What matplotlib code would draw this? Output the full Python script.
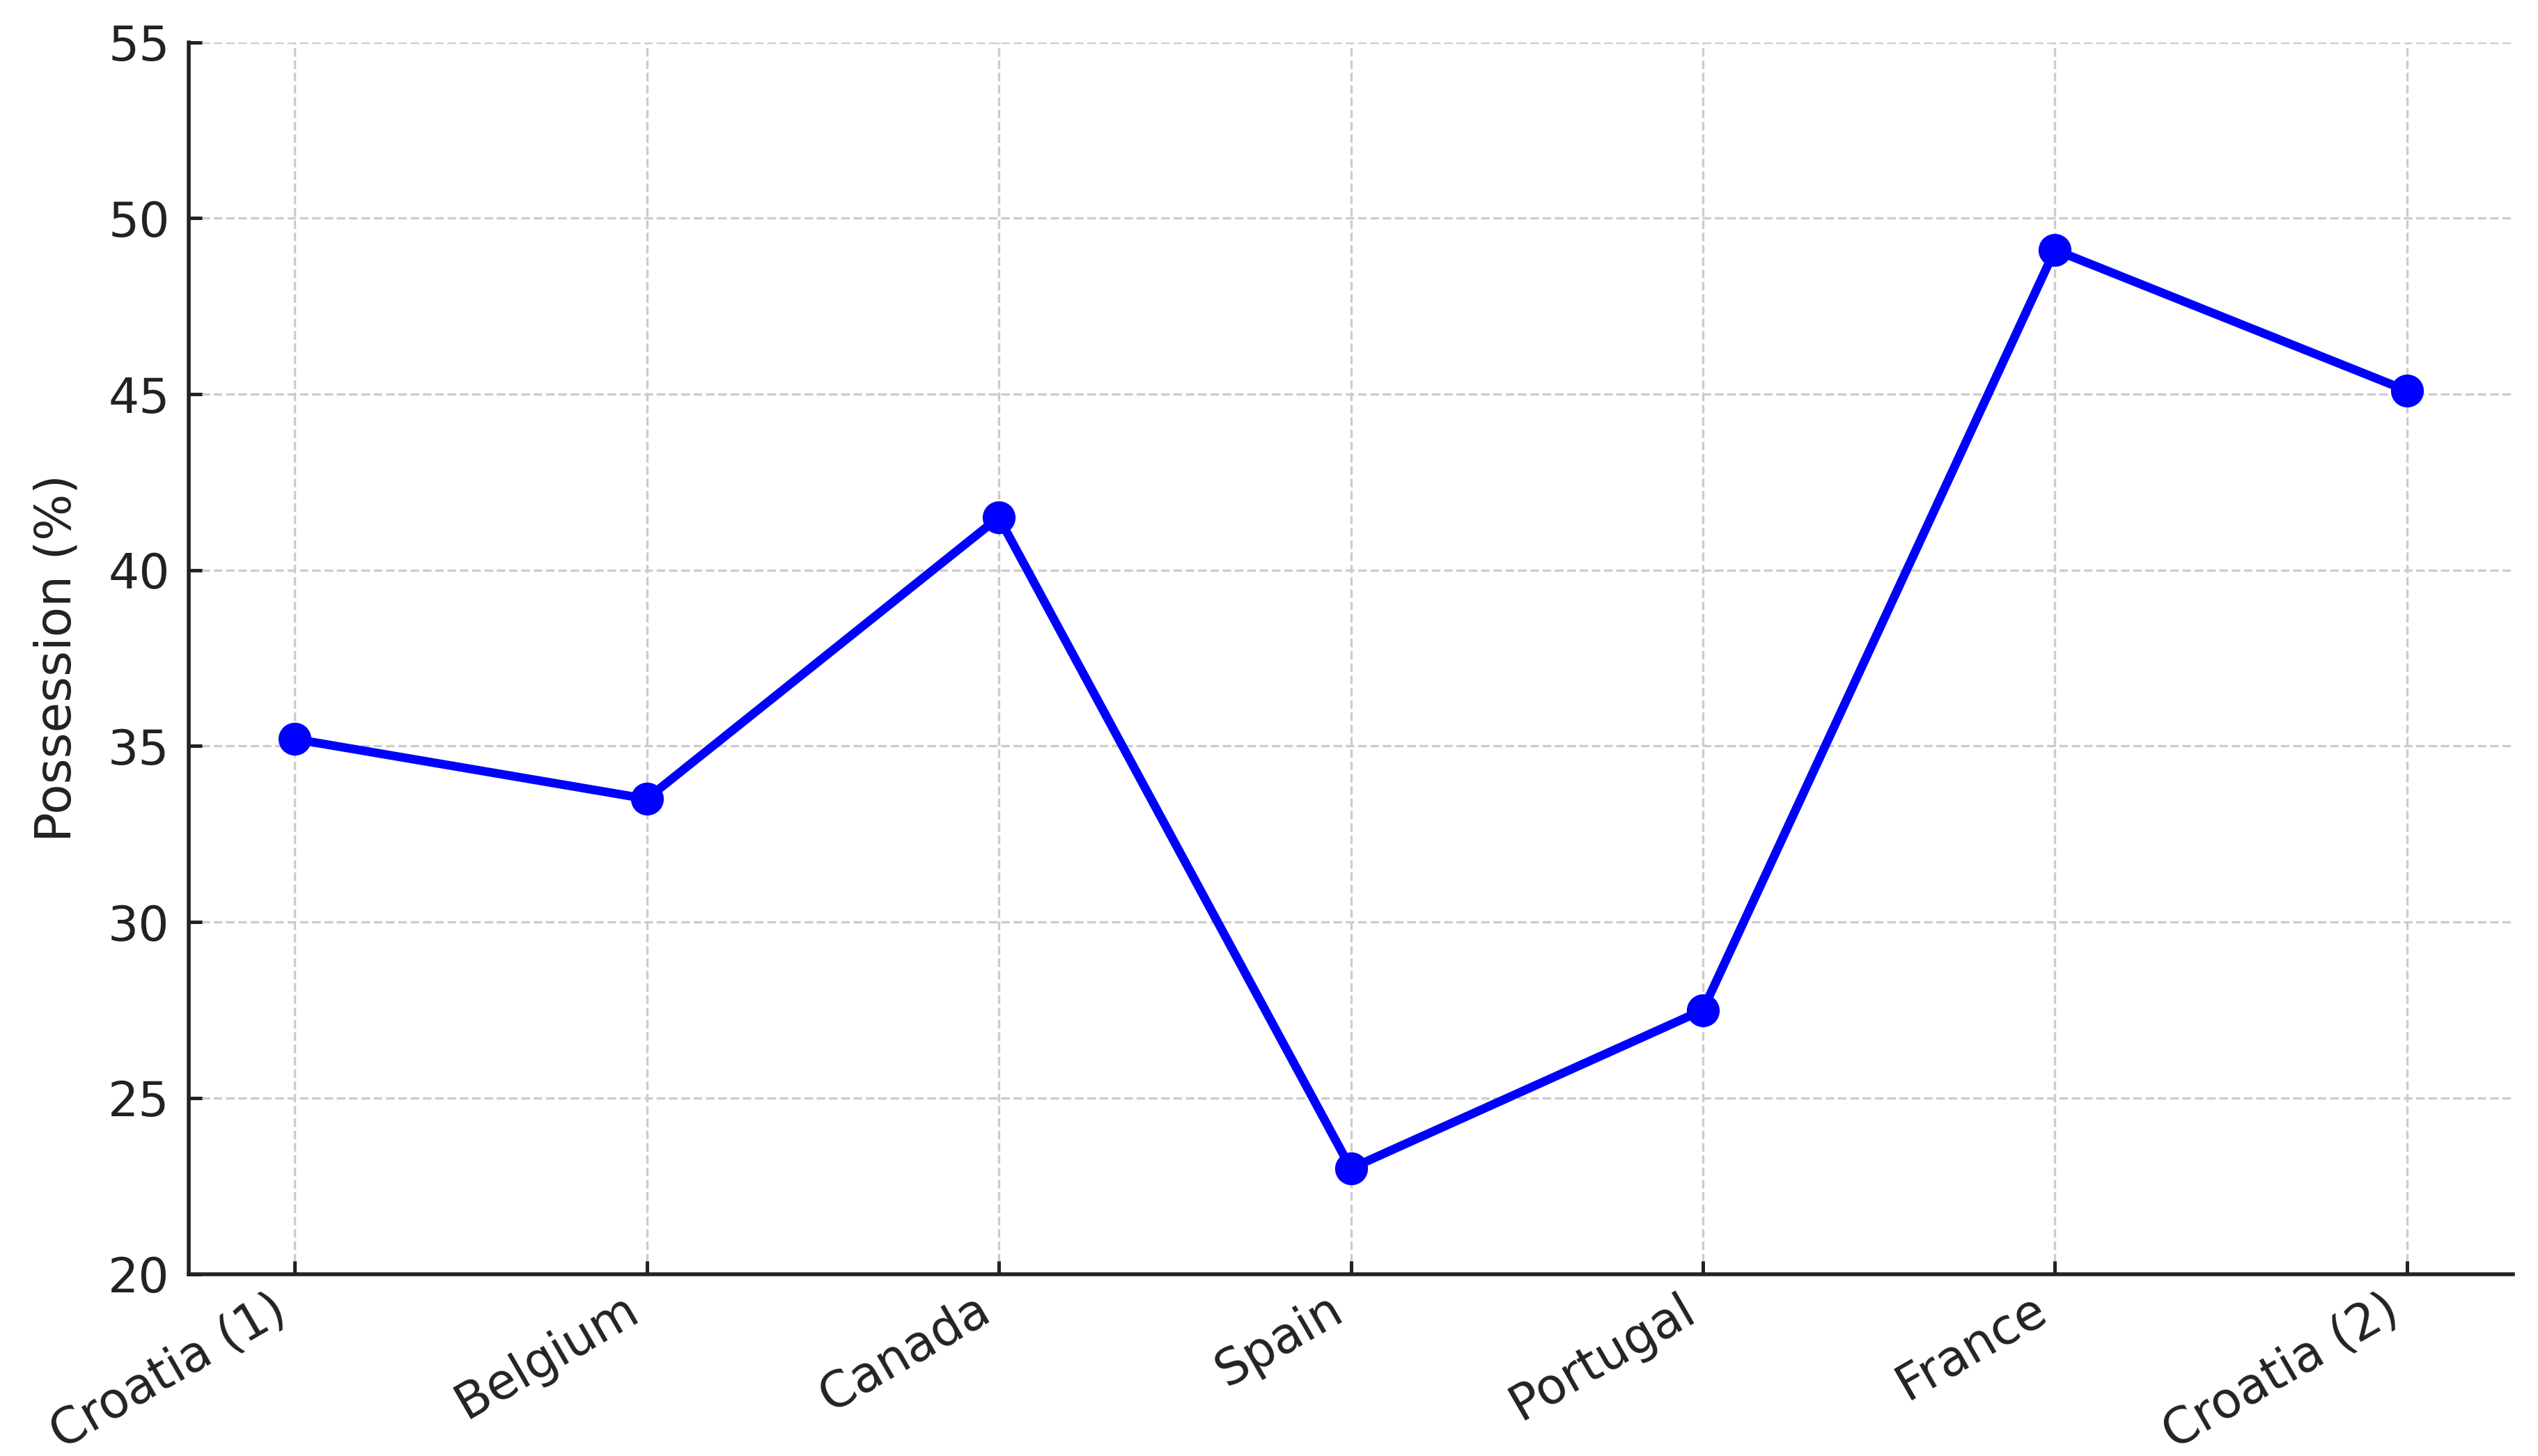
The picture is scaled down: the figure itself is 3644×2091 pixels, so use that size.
import matplotlib
matplotlib.use("Agg")
import matplotlib.pyplot as plt

matches = ["Croatia (1)", "Belgium", "Canada", "Spain", "Portugal", "France", "Croatia (2)"]
possession = [35.2, 33.5, 41.5, 23.0, 27.5, 49.1, 45.1]
y_ticks = [20, 25, 30, 35, 40, 45, 50, 55]

fig, ax = plt.subplots(figsize=(18.22, 10.455), dpi=200)
fig.subplots_adjust(left=0.0745, right=0.99, top=0.971, bottom=0.125)

ax.plot(range(len(matches)), possession, color="blue", marker="o",
        linewidth=4.5, markersize=16)

ax.set_ylim(20, 55)
ax.set_yticks(y_ticks)
ax.set_xticks(range(len(matches)))
ax.set_xticklabels(matches, rotation=30, ha="right", fontsize=25.5)
ax.tick_params(axis="y", labelsize=25, pad=10)
ax.tick_params(axis="x", pad=6)
ax.tick_params(direction="in", length=7, width=1.8, color="#222222", labelcolor="#222222")
ax.set_ylabel("Possession (%)", fontsize=25.5, color="#222222", labelpad=14)

ax.grid(True, linestyle="--", color="#cccccc", linewidth=1.2)
ax.set_axisbelow(True)
for side in ["top", "right"]:
    ax.spines[side].set_visible(False)
for side in ["left", "bottom"]:
    ax.spines[side].set_linewidth(2.0)
    ax.spines[side].set_color("#222222")

fig.savefig("out.png", dpi=200, facecolor="white")
